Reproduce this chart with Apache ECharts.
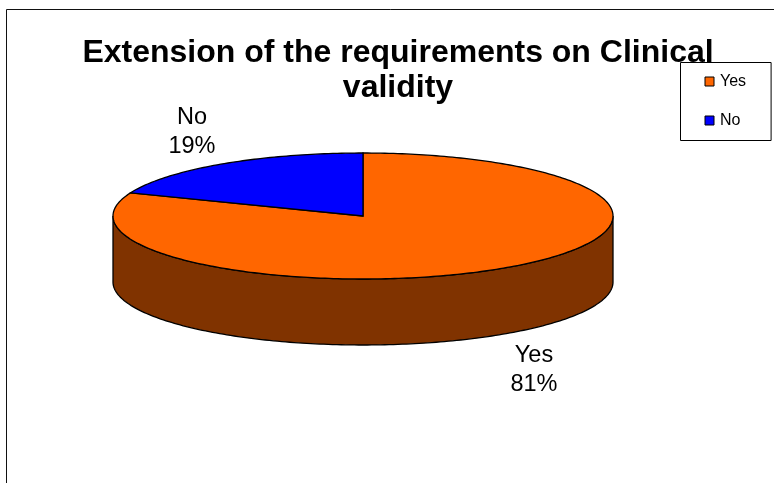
<!DOCTYPE html>
<html>
<head>
<meta charset="utf-8">
<style>html,body{margin:0;padding:0;background:#fff}#c{width:774px;height:483px}</style>
<script src="https://cdn.jsdelivr.net/npm/echarts@6/dist/echarts.min.js"></script>
</head>
<body>
<div id="c"></div>
<script>
const categories = ['Yes', 'No'];
const values = [81, 19];
const topColors = ['#FF6600', '#0000FF'];
const sideColors = ['#803300', '#000080'];
const titleText = 'Extension of the requirements on Clinical\nvalidity';

const total = values.reduce((a, b) => a + b, 0);
const CX = 363, CY = 216, RX = 250, RY = 63, DEPTH = 66;
const labelCenters = [[534, 370], [192, 132]];

function pt(frac, dy) {
  const a = frac * 2 * Math.PI;
  return [CX + RX * Math.sin(a), CY - RY * Math.cos(a) + (dy || 0)];
}
function arc(f0, f1, dy) {
  const n = Math.max(2, Math.ceil((f1 - f0) * 360));
  const out = [];
  for (let i = 0; i <= n; i++) out.push(pt(f0 + (f1 - f0) * i / n, dy));
  return out;
}

let acc = 0;
const series = categories.map((name, i) => {
  const start = acc / total;
  acc += values[i];
  const end = acc / total;
  return {
    type: 'custom',
    name,
    coordinateSystem: 'none',
    silent: true,
    itemStyle: { color: topColors[i] },
    data: [[start, end, values[i]]],
    z: i === 0 ? 2 : 3,
    renderItem(params, api) {
      const f0 = api.value(0), f1 = api.value(1);
      const children = [];
      const s0 = Math.max(f0, 0.25), s1 = Math.min(f1, 0.75);
      if (s1 > s0) {
        const up = arc(s0, s1, 0), down = arc(s0, s1, DEPTH).reverse();
        children.push({
          type: 'polygon',
          shape: { points: up.concat(down) },
          style: { fill: sideColors[i], stroke: '#000', lineWidth: 1.3 }
        });
      }
      children.push({
        type: 'polygon',
        shape: { points: [[CX, CY]].concat(arc(f0, f1, 0)) },
        style: { fill: topColors[i], stroke: '#000', lineWidth: 1.3 }
      });
      children.push({
        type: 'text',
        style: {
          x: labelCenters[i][0], y: labelCenters[i][1],
          text: categories[i] + '\n' + Math.round(api.value(2) / total * 100) + '%',
          fill: '#000', font: '23.5px "Liberation Sans", Arial, sans-serif',
          align: 'center', verticalAlign: 'middle', lineHeight: 29
        }
      });
      return { type: 'group', children };
    }
  };
});

const chart = echarts.init(document.getElementById('c'), null, { renderer: 'canvas' });
chart.setOption({
  animation: false,
  backgroundColor: '#fff',
  title: {
    text: titleText,
    left: 393, top: 31, textAlign: 'center',
    textStyle: { fontFamily: '"Liberation Sans", Arial, sans-serif', fontWeight: 'bold', fontSize: 32, color: '#000', lineHeight: 35 }
  },
  legend: {
    orient: 'vertical',
    left: 680.5, top: 62.5,
    padding: [11, 25, 12, 24],
    itemGap: 23,
    itemWidth: 9, itemHeight: 9,
    borderColor: '#000', borderWidth: 1,
    backgroundColor: '#fff',
    selectedMode: false,
    icon: 'rect',
    textStyle: { fontFamily: '"Liberation Sans", Arial, sans-serif', fontSize: 16, color: '#000', padding: [0, 0, 0, 1] },
    data: categories.map((name, i) => ({ name, itemStyle: { color: topColors[i], borderColor: '#000', borderWidth: 1 } }))
  },
  graphic: [
    { type: 'polyline', silent: true, shape: { points: [[6.5, 483], [6.5, 9.5], [774, 9.5]] }, style: { stroke: '#111', lineWidth: 1, fill: null } }
  ],
  series
});
</script>
</body>
</html>
